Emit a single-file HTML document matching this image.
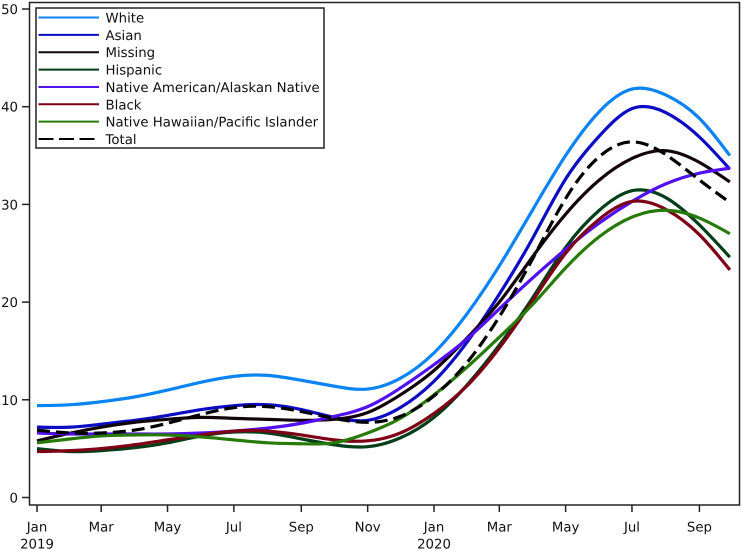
<!DOCTYPE html>
<html>
<head>
<meta charset="utf-8">
<title>Line chart by race and ethnicity</title>
<style>
html,body{margin:0;padding:0;background:#fff;}
svg{display:block;}
text{font-family:"DejaVu Sans","Liberation Sans",sans-serif;fill:#111;text-rendering:geometricPrecision;}
</style>
</head>
<body>
<svg id="chart" xmlns="http://www.w3.org/2000/svg" width="742" height="550" viewBox="0 0 742 550"></svg>
<script>
const dates = ["2019-01-01","2019-02-01","2019-03-01","2019-04-01","2019-05-01","2019-06-01","2019-07-01","2019-08-01","2019-09-01","2019-10-01","2019-11-01","2019-12-01","2020-01-01","2020-02-01","2020-03-01","2020-04-01","2020-05-01","2020-06-01","2020-07-01","2020-08-01","2020-09-01","2020-09-29"];
const white = [9.4,9.5,9.8,10.3,11.0,11.8,12.4,12.5,12.0,11.4,11.1,12.2,14.8,18.9,23.7,29.5,35.0,39.5,41.8,41.2,38.8,35.0];
const asian = [7.2,7.2,7.5,7.9,8.4,9.0,9.4,9.5,9.0,8.2,7.9,9.2,11.9,16.0,20.8,26.6,32.6,37.0,39.8,39.4,36.9,33.6];
const missing = [5.8,6.6,7.2,7.7,8.0,8.2,8.1,8.0,7.9,8.0,8.7,10.5,13.0,16.4,20.0,24.7,29.0,32.5,34.7,35.5,34.3,32.3];
const hispanic = [5.0,4.7,4.8,5.1,5.6,6.3,6.7,6.6,6.0,5.4,5.2,6.1,8.2,11.6,15.6,20.5,25.6,29.4,31.4,30.7,27.9,24.6];
const nativeAmerican = [6.6,6.5,6.5,6.5,6.5,6.6,6.8,7.1,7.6,8.3,9.3,11.2,13.6,16.3,19.3,22.5,25.4,28.1,30.3,32.1,33.2,33.7];
const black = [4.7,4.8,5.0,5.4,5.9,6.4,6.8,6.8,6.4,5.9,5.8,6.6,8.6,11.5,15.3,20.2,25.0,28.5,30.3,29.5,26.9,23.3];
const nativeHawaiian = [5.6,6.0,6.3,6.4,6.4,6.2,5.9,5.6,5.5,5.6,6.6,8.1,10.5,13.4,16.4,19.8,23.5,26.7,28.7,29.4,28.6,27.0];
const total = [6.9,6.6,6.6,6.9,7.6,8.5,9.2,9.3,8.8,8.1,7.7,8.3,10.4,13.9,18.5,24.5,30.6,34.9,36.4,35.1,32.5,30.2];
const yTicks = [0,10,20,30,40,50];
const xTickDates = ["2019-01-01","2019-03-01","2019-05-01","2019-07-01","2019-09-01","2019-11-01","2020-01-01","2020-03-01","2020-05-01","2020-07-01","2020-09-01"];
const xTickLabels = ["Jan","Mar","May","Jul","Sep","Nov","Jan","Mar","May","Jul","Sep"];
const xTickYears = ["2019","","","","","","2020","","","",""];
const seriesNames = ["White","Asian","Missing","Hispanic","Native American/Alaskan Native","Black","Native Hawaiian/Pacific Islander","Total"];
const seriesValues = [white,asian,missing,hispanic,nativeAmerican,black,nativeHawaiian,total];
const seriesColors = ["#0b84f3","#0c0cc4","#120408","#003f18","#5210f0","#7e0014","#287a08","#000000"];

const NS = "http://www.w3.org/2000/svg";
const svg = document.getElementById("chart");
const origin = Date.UTC(2019,0,1);
function days(d){const p=d.split("-");return (Date.UTC(+p[0],+p[1]-1,+p[2])-origin)/86400000;}
function xScale(d){return 37+days(d)*1.0877;}
function yScale(v){return 497.5-v*9.77;}
function make(tag,attrs,parent){
  const el=document.createElementNS(NS,tag);
  for(const k in attrs){el.setAttribute(k,attrs[k]);}
  (parent||svg).appendChild(el);
  return el;
}
/* natural cubic spline through the data, emitted as Bezier segments */
function smoothPath(xs,ys){
  const n=xs.length,h=[],a=[],b=[],c=[],r=[],m=new Array(n).fill(0);
  for(let i=0;i<n-1;i++){h[i]=xs[i+1]-xs[i];}
  b[0]=1;c[0]=0;r[0]=0;
  for(let i=1;i<n-1;i++){
    a[i]=h[i-1];b[i]=2*(h[i-1]+h[i]);c[i]=h[i];
    r[i]=6*((ys[i+1]-ys[i])/h[i]-(ys[i]-ys[i-1])/h[i-1]);
  }
  a[n-1]=0;b[n-1]=1;r[n-1]=0;
  for(let i=1;i<n;i++){
    const w=a[i]/b[i-1];
    b[i]-=w*c[i-1];
    r[i]-=w*r[i-1];
  }
  m[n-1]=r[n-1]/b[n-1];
  for(let i=n-2;i>=0;i--){m[i]=(r[i]-c[i]*m[i+1])/b[i];}
  let d="M"+xs[0].toFixed(2)+" "+ys[0].toFixed(2);
  for(let i=0;i<n-1;i++){
    const s=(ys[i+1]-ys[i])/h[i];
    const t0=s-h[i]*(2*m[i]+m[i+1])/6;
    const t1=s+h[i]*(m[i]+2*m[i+1])/6;
    d+="C"+(xs[i]+h[i]/3).toFixed(2)+" "+(ys[i]+t0*h[i]/3).toFixed(2)+" "+(xs[i+1]-h[i]/3).toFixed(2)+" "+(ys[i+1]-t1*h[i]/3).toFixed(2)+" "+xs[i+1].toFixed(2)+" "+ys[i+1].toFixed(2);
  }
  return d;
}
const axisColor="#222";

const frame=make("rect",{x:29.5,y:2.5,width:710,height:502.5,fill:"#fff",stroke:axisColor,"stroke-width":1.5});



yTicks.forEach(function(t){
  const y=yScale(t);
  const tick=make("line",{x1:22,x2:29.5,y1:y,y2:y,stroke:axisColor,"stroke-width":1.5});
  
  
  const label=make("text",{x:18,y:y+5,"text-anchor":"end","font-size":13.3});
  label.textContent=t;
  
  
});

xTickDates.forEach(function(d,i){
  const x=xScale(d);
  const tick=make("line",{x1:x,x2:x,y1:505,y2:512,stroke:axisColor,"stroke-width":1.5});
  
  
  const label=make("text",{x:x,y:531.5,"text-anchor":"middle","font-size":13.3});
  label.textContent=xTickLabels[i];
  
  
  if(xTickYears[i]){
    const year=make("text",{x:x,y:548.5,"text-anchor":"middle","font-size":13.3});
    year.textContent=xTickYears[i];
    
    
  }
});

const xs=dates.map(xScale);
seriesValues.forEach(function(vals,i){
  const line=make("path",{d:smoothPath(xs,vals.map(yScale)),fill:"none",stroke:seriesColors[i],"stroke-width":3.2});
  if(seriesNames[i]==="Total"){line.setAttribute("stroke-dasharray","13 6");}
  
  
});

const legendBox=make("rect",{x:36,y:8,width:288,height:140,fill:"#fff",stroke:axisColor,"stroke-width":1.5});


seriesNames.forEach(function(n,i){
  const y=17.5+i*17.36;
  const swatch=make("line",{x1:38.5,x2:99,y1:y,y2:y,stroke:seriesColors[i],"stroke-width":2});
  if(n==="Total"){swatch.setAttribute("stroke-dasharray","15 5.5");}
  
  
  const label=make("text",{x:105.5,y:y+5,"font-size":13.3});
  label.textContent=n;
  
  
});
</script>
</body>
</html>
